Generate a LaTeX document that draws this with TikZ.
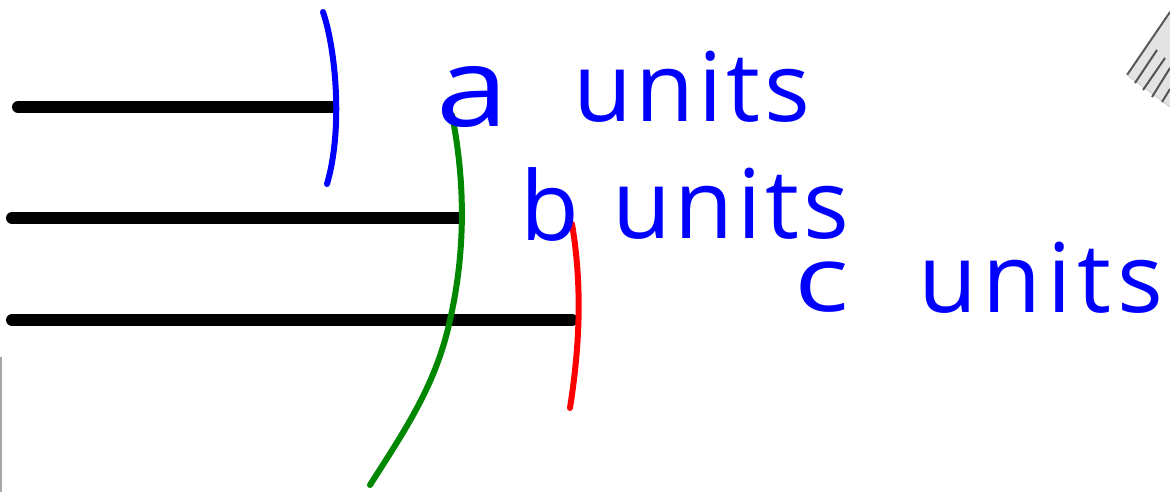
\documentclass[tikz,border=0pt]{standalone}
\usepackage{fontspec}
\setmainfont{Open Sans}
\definecolor{penblue}{RGB}{0,0,255}
\definecolor{pengreen}{RGB}{0,135,0}
\definecolor{penred}{RGB}{255,0,0}
\begin{document}
\begin{tikzpicture}[x=1pt,y=-1pt,
  bar/.style={line width=12pt,line cap=round,black},
  pen/.style={line width=6pt,line cap=round},
  word/.style={inner sep=0pt,anchor=base west,text=penblue,font=\fontsize{96}{96}\selectfont}]
\useasboundingbox (0,0) rectangle (1170,492);
% black bars
\coordinate (b1s) at (18,107); \coordinate (b1e) at (333,107);
\coordinate (b2s) at (12,218); \coordinate (b2e) at (458,218);
\coordinate (b3s) at (12,320); \coordinate (b3e) at (572,320);
\draw[bar] (b1s) -- (b1e);
\draw[bar] (b2s) -- (b2e);
\draw[bar] (b3s) -- (b3e);
% arcs
\coordinate (bl1) at (323,12); \coordinate (bl2) at (327,184);
\draw[pen,penblue] (bl1) .. controls (336,50) and (343,130) .. (bl2);
\coordinate (g1) at (452,115); \coordinate (g2) at (450,320); \coordinate (g3) at (370,485);
\draw[pen,pengreen] (g1) .. controls (465,180) and (466,250) .. (g2)
   .. controls (436,385) and (405,430) .. (g3);
\coordinate (r1) at (572,224); \coordinate (r2) at (570,408);
\draw[pen,penred] (r1) .. controls (583,290) and (579,350) .. (r2);
% labels
\node[word] (la) at (436,127) {\scalebox{1.35}[1.15]{a}};
\node[word] (lau) at (573,122) {\addfontfeature{LetterSpace=4}units};
\node[word] (lb) at (520,240) {b};
\node[word] (lbu) at (612,238) {\addfontfeature{LetterSpace=4}units};
\node[word] (lc) at (794,311) {\scalebox{1.2}[0.95]{c}};
\node[word] (lcu) at (918,312) {\addfontfeature{LetterSpace=6}units};
% gray corner object
\fill[gray!22] (1170,12) -- (1127,75) -- (1170,107) -- cycle;
\draw[gray!70!black,line width=2pt] (1170,12) -- (1127,75);
\draw[gray!35,line width=1pt] (1127,75) -- (1170,107);
\foreach \a/\b/\c/\d in {1135/83/1157/50, 1143/90/1165/58, 1152/97/1170/68, 1162/102/1170/89}
  \draw[gray!65!black,line width=2pt] (\a,\b) -- (\c,\d);
% left edge line
\draw[gray!70,line width=2pt] (1,357) -- (1,492);
\end{tikzpicture}
\end{document}
